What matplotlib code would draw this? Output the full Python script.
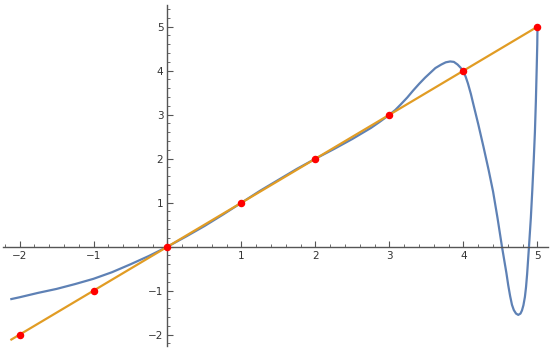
import matplotlib.pyplot as plt
from matplotlib.ticker import MultipleLocator, FuncFormatter

# sampled curve (x, f(x))
curve_x = [-2.11, -2.0, -1.75, -1.5, -1.25, -1.0, -0.75, -0.5, -0.25, 0.0,
           0.25, 0.5, 0.75, 1.0, 1.25, 1.5, 1.75, 2.0, 2.25, 2.5, 2.75,
           2.87, 3.0, 3.08, 3.15, 3.24, 3.32, 3.4, 3.48, 3.55, 3.62, 3.7,
           3.76, 3.82, 3.87, 3.92, 3.96, 4.0, 4.03, 4.06, 4.1, 4.13, 4.2,
           4.27, 4.34, 4.4, 4.46, 4.52, 4.58, 4.605, 4.63, 4.655, 4.68, 4.71,
           4.74, 4.77, 4.79, 4.81, 4.83, 4.845, 4.86, 4.885, 4.91, 4.93, 4.95,
           4.965, 4.978, 4.99, 4.997, 5.0]
curve_y = [-1.19, -1.15, -1.05, -0.96, -0.85, -0.73, -0.58, -0.40, -0.21, 0.0,
           0.23, 0.47, 0.73, 1.0, 1.27, 1.52, 1.77, 2.0, 2.22, 2.45, 2.70,
           2.84, 3.0, 3.11, 3.23, 3.39, 3.55, 3.70, 3.84, 3.95, 4.06, 4.14,
           4.19, 4.21, 4.20, 4.14, 4.07, 3.98, 3.86, 3.71, 3.47, 3.26, 2.78,
           2.27, 1.74, 1.25, 0.65, 0.0, -0.60, -0.88, -1.12, -1.32, -1.44, -1.52,
           -1.55, -1.52, -1.45, -1.33, -1.14, -0.92, -0.62, 0.0, 0.65, 1.29, 2.0,
           2.6, 3.3, 4.1, 4.6, 5.0]

# the line y = x and the sample points on it
line_x = [-2.11, 5.0]
line_y = [-2.11, 5.0]
pts_x = [-2, -1, 0, 1, 2, 3, 4, 5]
pts_y = [-2, -1, 0, 1, 2, 3, 4, 5]

BLUE = "#5e81b5"
ORANGE = "#e19c24"
AXIS = "#555555"

fig = plt.figure(figsize=(5.5, 3.5), dpi=100)
ax = fig.add_axes([3 / 550, 4 / 350, 545 / 550, 341 / 350])
ax.set_xlim(-2.223, 5.142)
ax.set_ylim(-2.257, 5.493)

ax.plot(curve_x, curve_y, color=BLUE, lw=1.6, zorder=2,
        solid_joinstyle="round")
ax.plot(line_x, line_y, color=ORANGE, lw=1.6, zorder=3)
ax.plot(pts_x, pts_y, "o", color="red", markersize=4.4, zorder=4)

# axes through the origin
for side in ("top", "right"):
    ax.spines[side].set_visible(False)
ax.spines["left"].set_position(("data", 0))
ax.spines["bottom"].set_position(("data", 0))
for side in ("left", "bottom"):
    ax.spines[side].set_color(AXIS)
    ax.spines[side].set_linewidth(1.0)

ax.xaxis.set_major_locator(MultipleLocator(1))
ax.xaxis.set_minor_locator(MultipleLocator(0.2))
ax.yaxis.set_major_locator(MultipleLocator(1))
ax.yaxis.set_minor_locator(MultipleLocator(0.2))
fmt = FuncFormatter(lambda v, p: "" if abs(v) < 1e-9 else f"{int(round(v))}".replace("-", "\u2212"))
ax.xaxis.set_major_formatter(fmt)
ax.yaxis.set_major_formatter(fmt)
ax.tick_params(which="major", direction="in", length=4, width=0.8, color=AXIS,
               labelsize=7.5, labelcolor="#333333", pad=3)
ax.tick_params(which="minor", direction="in", length=2.5, width=0.6, color=AXIS)
ax.patch.set_alpha(0)

fig.savefig("out.png", dpi=100)
